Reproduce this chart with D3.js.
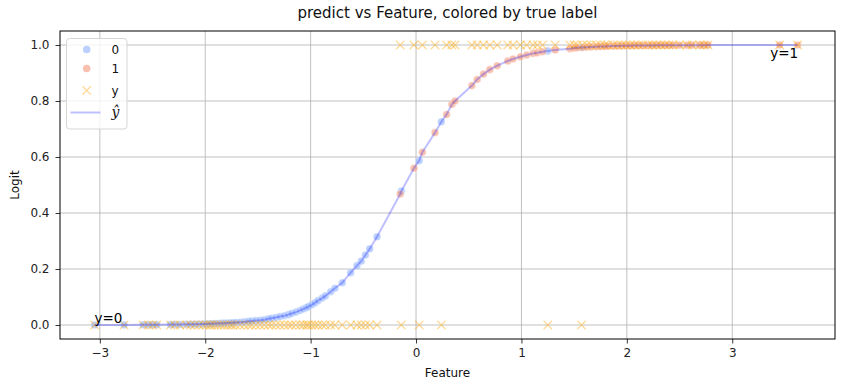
<!DOCTYPE html>
<html>
<head>
<meta charset="utf-8">
<script src="https://cdn.jsdelivr.net/npm/d3@7"></script>
<style>
body{margin:0;background:#fff;}
text{font-family:"DejaVu Sans",sans-serif;}
</style>
</head>
<body>
<div id="chart"></div>
<script>
// true label 0
var feature0 = [-3.05,-2.77,-2.59,-2.54,-2.50,-2.46,-2.33,-2.29,-2.24,-2.18,-2.14,-2.10,-2.06,-2.02,-1.99,-1.96,-1.94,-1.91,-1.88,-1.85,-1.82,-1.79,-1.76,-1.74,-1.71,-1.67,-1.63,-1.59,-1.56,-1.52,-1.48,-1.44,-1.40,-1.37,-1.33,-1.29,-1.25,-1.21,-1.18,-1.14,-1.10,-1.07,-1.04,-1.02,-0.99,-0.96,-0.93,-0.89,-0.86,-0.81,-0.77,-0.70,-0.62,-0.56,-0.52,-0.48,-0.44,-0.37,-0.14,0.03,0.24,1.25,1.57];
var prob0 = [0.0002,0.0004,0.0007,0.0008,0.0009,0.0010,0.0015,0.0017,0.0019,0.0023,0.0026,0.0029,0.0033,0.0037,0.0040,0.0044,0.0046,0.0051,0.0055,0.0060,0.0066,0.0072,0.0078,0.0083,0.0090,0.010,0.011,0.013,0.014,0.016,0.017,0.019,0.022,0.024,0.027,0.030,0.033,0.037,0.041,0.046,0.052,0.057,0.062,0.066,0.072,0.079,0.087,0.096,0.104,0.119,0.131,0.151,0.187,0.212,0.228,0.250,0.272,0.315,0.478,0.587,0.726,0.979,0.991];
// true label 1
var feature1 = [-0.15,-0.02,0.06,0.18,0.29,0.34,0.37,0.53,0.58,0.64,0.70,0.77,0.87,0.92,0.99,1.05,1.11,1.15,1.20,1.32,1.46,1.50,1.53,1.58,1.62,1.66,1.71,1.75,1.79,1.82,1.87,1.91,1.95,1.99,2.03,2.07,2.11,2.15,2.20,2.24,2.28,2.32,2.36,2.40,2.44,2.50,2.57,2.62,2.69,2.73,2.77,3.45,3.62];
var prob1 = [0.468,0.560,0.617,0.687,0.752,0.788,0.800,0.855,0.877,0.896,0.912,0.926,0.943,0.950,0.958,0.964,0.970,0.972,0.976,0.982,0.987,0.989,0.990,0.991,0.992,0.993,0.994,0.9945,0.995,0.9955,0.996,0.9965,0.997,0.9972,0.9975,0.9978,0.998,0.9982,0.9984,0.9986,0.9987,0.9988,0.9989,0.999,0.9991,0.9992,0.9993,0.9994,0.9995,0.9995,0.9996,0.9999,0.9999];
var xTicks = [-3,-2,-1,0,1,2,3];
var yTicks = [0,0.2,0.4,0.6,0.8,1.0];
var legendLabels = ['0','1','y','ŷ'];

var width = 844, height = 390;
var plotL = 60, plotR = 835, plotT = 31, plotB = 339;
var hueColors = ['#8db0fe','#f4987a'];

var points = [];
for(var i in feature0) points.push({x:feature0[i],p:prob0[i],label:0});
for(var i in feature1) points.push({x:feature1[i],p:prob1[i],label:1});
var sorted = points.slice().sort(function(a,b){return a.x-b.x;});

var svg = d3.select('#chart').append('svg')
	.attr('width',width)
	.attr('height',height);

var x = d3.scaleLinear().domain([-3.378,3.975]).range([plotL,plotR]);
var y = d3.scaleLinear().domain([-0.05,1.05]).range([plotB,plotT]);

//grid
svg.append('g').selectAll('line').data(xTicks).enter().append('line')
	.attr('x1',function(d){return x(d);}).attr('x2',function(d){return x(d);})
	.attr('y1',plotT).attr('y2',plotB)
	.style('stroke','#b0b0b0').style('stroke-width',0.8);
svg.append('g').selectAll('line').data(yTicks).enter().append('line')
	.attr('y1',function(d){return y(d);}).attr('y2',function(d){return y(d);})
	.attr('x1',plotL).attr('x2',plotR)
	.style('stroke','#b0b0b0').style('stroke-width',0.8);

//axes
var xAxis = svg.append('g').attr('transform','translate(0,'+plotB+')')
	.call(d3.axisBottom(x).tickValues(xTicks).tickSize(4.5).tickPadding(5)
		.tickFormat(function(d){return d<0 ? '\u2212'+Math.abs(d) : d;}));
var yAxis = svg.append('g').attr('transform','translate('+plotL+',0)')
	.call(d3.axisLeft(y).tickValues(yTicks).tickSize(4.5).tickPadding(6).tickFormat(d3.format('.1f')));
[xAxis,yAxis].forEach(function(a){
	a.select('.domain').remove();
	a.selectAll('line').style('stroke','#000').style('stroke-width',0.8);
	a.selectAll('text').style('font-size','12px').style('fill','#222')
		.style('font-family','"DejaVu Sans",sans-serif');
});

//scatter colored by true label
svg.append('g').selectAll('circle').data(points).enter().append('circle')
	.attr('cx',function(d){return x(d.x);})
	.attr('cy',function(d){return y(d.p);})
	.attr('r',3.8)
	.style('fill',function(d){return hueColors[d.label];})
	.style('fill-opacity',0.6)
	.style('stroke','#fff').style('stroke-width',0.6).style('stroke-opacity',0.6);

//true label markers
var cross = function(g,cx,cy,s){
	g.append('path')
		.attr('d','M'+(cx-s)+','+(cy-s)+'L'+(cx+s)+','+(cy+s)+'M'+(cx-s)+','+(cy+s)+'L'+(cx+s)+','+(cy-s))
		.style('stroke','orange').style('stroke-opacity',0.4).style('stroke-width',1.3).style('fill','none');
};
var crossG = svg.append('g');
points.forEach(function(d){ cross(crossG,x(d.x),y(d.label),4.2); });

//predicted line
var line = d3.line().x(function(d){return x(d.x);}).y(function(d){return y(d.p);});
svg.append('path').datum(sorted)
	.attr('d',line)
	.style('fill','none').style('stroke','blue').style('stroke-opacity',0.25).style('stroke-width',2);

//annotations
svg.append('text').attr('x',x(feature0[0])).attr('y',y(0)-2.5)
	.style('font-size','13.5px').style('fill','#000').text('y=0');
svg.append('text').attr('x',x(3.36)).attr('y',y(0.952))
	.style('font-size','13.5px').style('fill','#000').text('y=1');

//frame
svg.append('rect').attr('x',plotL).attr('y',plotT).attr('width',plotR-plotL).attr('height',plotB-plotT)
	.style('fill','none').style('stroke','#000').style('stroke-width',1);

//legend
var lg = svg.append('g');
lg.append('rect').attr('x',66.5).attr('y',38.5).attr('width',60.5).attr('height',90.5)
	.attr('rx',3).style('fill','#fff').style('fill-opacity',0.8)
	.style('stroke','#d6d6d6').style('stroke-width',1);
var legendY = [49.5,68.5,90.5,112.5];
lg.append('circle').attr('cx',86.7).attr('cy',legendY[0]).attr('r',3.8)
	.style('fill',hueColors[0]).style('fill-opacity',0.6);
lg.append('circle').attr('cx',86.7).attr('cy',legendY[1]).attr('r',3.8)
	.style('fill',hueColors[1]).style('fill-opacity',0.6);
cross(lg,86.7,legendY[2],4.2);
lg.append('line').attr('x1',70.5).attr('x2',100.5).attr('y1',legendY[3]).attr('y2',legendY[3])
	.style('stroke','blue').style('stroke-opacity',0.25).style('stroke-width',2);
lg.selectAll('text.lab').data(legendLabels).enter().append('text')
	.attr('class','lab')
	.attr('x',111.5)
	.attr('y',function(d,i){return legendY[i];})
	.attr('dy','0.35em')
	.style('font-size',function(d,i){return i==3 ? '14px' : '12px';})
	.style('font-style',function(d,i){return i==3 ? 'italic' : 'normal';})
	.style('font-family',function(d,i){return i==3 ? '"DejaVu Serif",serif' : null;})
	.style('fill','#111')
	.text(function(d){return d;});

//titles
svg.append('text').attr('x',(plotL+plotR)/2).attr('y',18)
	.attr('text-anchor','middle').style('font-size','15px').style('fill','#111')
	.text('predict vs Feature, colored by true label');
svg.append('text').attr('x',(plotL+plotR)/2).attr('y',377)
	.attr('text-anchor','middle').style('font-size','12px').style('fill','#111')
	.text('Feature');
svg.append('text').attr('transform','translate(19,'+((plotT+plotB)/2)+') rotate(-90)')
	.attr('text-anchor','middle').style('font-size','12px').style('fill','#111')
	.text('Logit');
</script>
</body>
</html>
